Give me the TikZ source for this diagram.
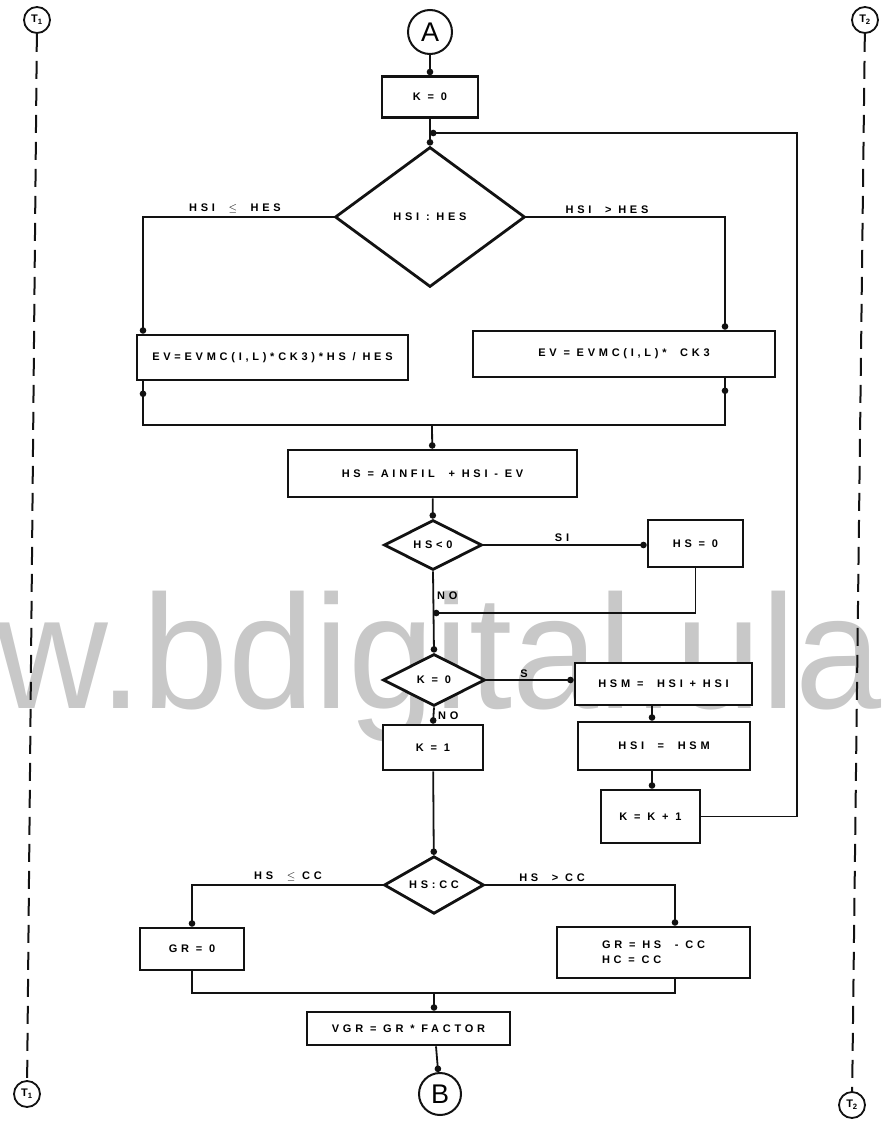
\documentclass[tikz,border=0pt]{standalone}
\usepackage{fontspec}
\usetikzlibrary{arrows.meta,shapes.geometric}
\newfontfamily\flowfont{Liberation Sans}[LetterSpace=34]
\newfontfamily\plainsans{Liberation Sans}
\definecolor{ink}{RGB}{18,18,18}
\definecolor{wmark}{RGB}{200,200,200}
\begin{document}
\begin{tikzpicture}[x=1pt,y=-1pt,
  line/.style={draw=ink,line width=1.8pt},
  arr/.style={line,-{Circle[length=6.5pt]}},
  txt/.style={font=\flowfont\bfseries\fontsize{11}{15}\selectfont},
  box/.style={txt,draw=ink,line width=2.6pt,fill=white,rectangle,inner sep=0pt,align=center},
  dec/.style={txt,draw=ink,line width=2.8pt,fill=white,diamond,inner sep=0pt},
  lbl/.style={txt,inner sep=1.5pt,anchor=south},
  term/.style={circle,draw=ink,line width=2pt,fill=white,inner sep=0pt,font=\plainsans\fontsize{27}{27}\selectfont},
  page/.style={circle,draw=ink,line width=1.8pt,fill=white,inner sep=0pt,minimum size=26pt,font=\plainsans\bfseries\fontsize{11}{11}\selectfont},
  rail/.style={draw=ink,line width=2pt,dash pattern=on 18pt off 9pt}
]
\useasboundingbox (0,0) rectangle (883,1122);

% watermark behind the chart
\node[anchor=base west,inner sep=0pt,text=wmark,xscale=0.955,
      font=\plainsans\fontsize{162}{162}\selectfont] (wm) at (-4,708) {w.bdigital.ula};

% page connectors and dashed rails
\node[page] (t1a) at (37,20) {T\textsubscript{1}};
\node[page] (t1b) at (27,1094) {T\textsubscript{1}};
\node[page] (t2a) at (865,20) {T\textsubscript{2}};
\node[page] (t2b) at (852,1105) {T\textsubscript{2}};
\draw[rail] (t1a) -- (t1b);
\draw[rail] (t2a) -- (t2b);

% main column
\node[term,minimum size=44pt] (A) at (430,32) {A};
\node[box,minimum width=96pt,minimum height=41pt] (k0) at (430,97) {K = 0};
\node[dec,minimum width=190pt,minimum height=140pt] (d1) at (430,217) {HSI : HES};
\node[box,minimum width=271pt,minimum height=45pt] (lbox) at (272.5,357.5) {EV=EVMC(I,L)*CK3)*HS / HES};
\node[box,minimum width=302pt,minimum height=46pt] (rbox) at (624,354) {EV = EVMC(I,L)* \ CK3};
\node[box,minimum width=289pt,minimum height=47pt] (hs) at (432.5,473.5) {HS = AINFIL \ + HSI - EV};
\node[dec,minimum width=98pt,minimum height=50pt] (d2) at (433,545) {HS<0};
\node[box,minimum width=95pt,minimum height=47pt] (hs0) at (695.5,543.5) {HS = 0};
\node[dec,minimum width=102pt,minimum height=52pt] (d3) at (434,680) {K = 0};
\node[box,minimum width=177pt,minimum height=42pt] (hsm) at (663.5,684) {HSM = \ HSI + HSI};
\node[box,minimum width=172pt,minimum height=48pt] (hsi) at (664,746) {HSI \ = \ HSM};
\node[box,minimum width=99pt,minimum height=53pt] (kk1) at (650.5,816.5) {K = K + 1};
\node[box,minimum width=100pt,minimum height=45pt] (k1) at (433,747.5) {K = 1};
\node[dec,minimum width=100pt,minimum height=52pt] (d4) at (434,885) {HS:CC};
\node[box,minimum width=104pt,minimum height=42pt] (gr0) at (192,949) {GR = 0};
\node[box,minimum width=193pt,minimum height=51pt,align=left] (grb) at (653.5,952.5) {GR = HS \ - CC\\HC = CC};
\node[box,minimum width=203pt,minimum height=33pt] (vgr) at (408.5,1028.5) {VGR = GR * FACTOR};
\node[term,minimum size=42pt] (B) at (440,1094) {B};

% helper points
\coordinate (jtop) at (430,133);
\coordinate (lx) at (143,0);
\coordinate (rx) at (725,0);
\coordinate (lmid) at (143,397);
\coordinate (rmid) at (725,394);
\coordinate (ljoin) at (143,425);
\coordinate (rjoin) at (725,425);
\coordinate (cjoin) at (432,425);
\coordinate (jno) at (433,613);
\coordinate (cx) at (652,0);
\coordinate (loopr) at (797,0);
\coordinate (grx) at (675,0);
\coordinate (bjoin) at (434,993);
\coordinate (vx) at (436,0);

% connectors
\draw[arr] (A) -- (k0);
\draw[arr] (k0) -- (d1);
\draw[arr] (kk1.east) -- (loopr |- kk1.east) -- (loopr |- jtop) -- (jtop);

\draw[arr] (d1.west) -| (lx |- lbox.north);
\draw[arr] (d1.east) -| (rx |- rbox.north);
\node[lbl] at (235,215) {HSI \ $\leq$ \ HES};
\node[lbl] at (607,215) {HSI \ > HES};

\draw[arr] (lx |- lbox.south) -- (lmid);
\draw[arr] (rx |- rbox.south) -- (rmid);
\draw[line] (lmid) -- (ljoin) -- (rjoin) -- (rmid);
\draw[arr] (cjoin) -- (hs);

\draw[arr] (hs) -- (d2);
\draw[arr] (d2.east) -- (d2.east -| hs0.west);
\node[lbl] at (562,543) {SI};
\draw[arr] (hs0.south) -- (hs0.south |- jno) -- (jno);
\draw[arr] (d2.south) -- (d3.north);
\node[txt,anchor=west,inner sep=1pt] at (436,596) {NO};

\draw[arr] (d3.east) -- (d3.east -| hsm.west);
\node[lbl] at (524,679) {S};
\draw[arr] (d3.south) -- (k1.north);
\node[txt,anchor=west,inner sep=1pt] at (437,716) {NO};

\draw[arr] (cx |- hsm.south) -- (cx |- hsi.north);
\draw[arr] (cx |- hsi.south) -- (cx |- kk1.north);

\draw[arr] (k1) -- (d4);
\draw[arr] (d4.west) -| (gr0.north);
\draw[arr] (d4.east) -| (grx |- grb.north);
\node[lbl] at (288,883) {HS \ $\leq$ CC};
\node[lbl] at (552,883) {HS \ > CC};

\draw[line] (gr0.south) -- (gr0.south |- bjoin) -- (grx |- bjoin) -- (grx |- grb.south);
\draw[arr] (bjoin) -- (bjoin |- vgr.north);
\draw[arr] (vx |- vgr.south) -- (B);
\end{tikzpicture}
\end{document}
